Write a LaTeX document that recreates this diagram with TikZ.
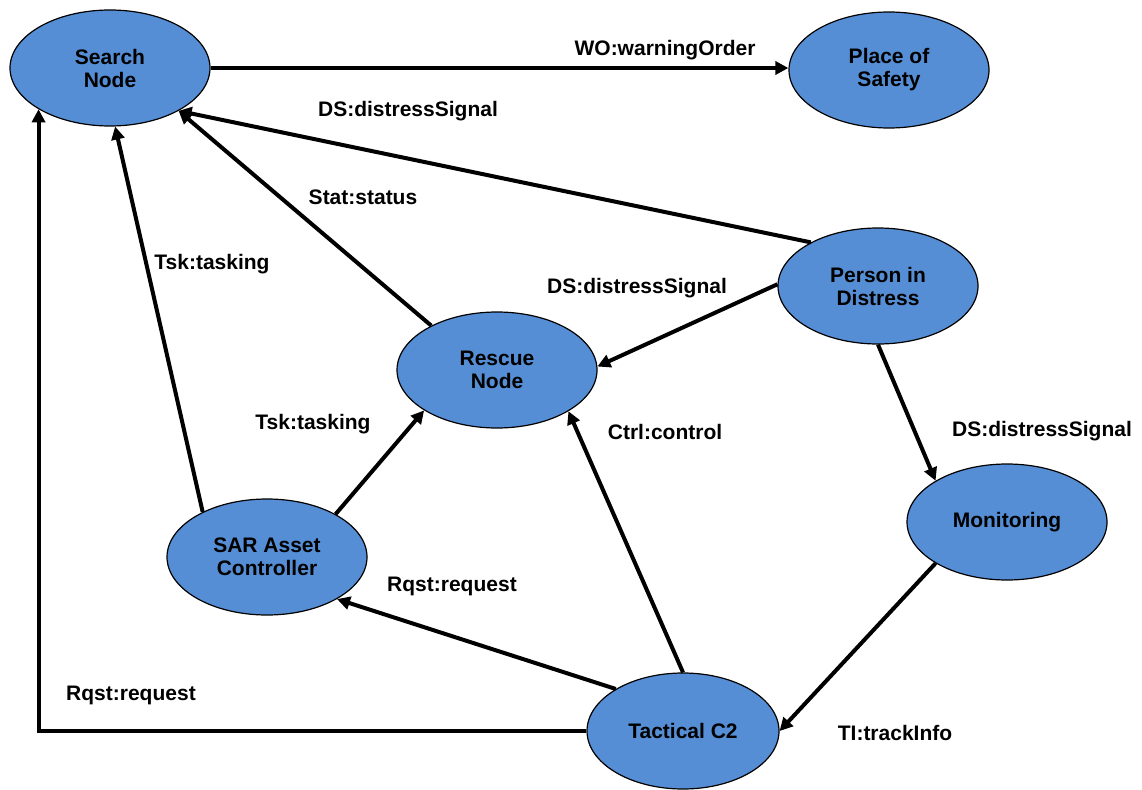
\documentclass[tikz,border=0pt]{standalone}
\usepackage{fontspec}
\setmainfont{Liberation Sans}
\usetikzlibrary{shapes.geometric,arrows.meta}
\definecolor{nodeblue}{RGB}{85,142,213}
\begin{document}
\begin{tikzpicture}[x=1pt,y=-1pt,
  every node/.style={font=\fontsize{21}{23}\selectfont\bfseries},
  actor/.style={ellipse,draw=black,line width=1.2pt,fill=nodeblue,
    minimum width=200pt,minimum height=116pt,inner sep=0pt,align=center},
  flow/.style={line width=4pt,-{Triangle[length=13pt,width=13pt]}},
  lbl/.style={inner sep=0pt}]
\useasboundingbox (0,0) rectangle (1142,789);

% actors
\node[actor] (search)  at (110,68)  {Search\\Node};
\node[actor] (safety)  at (889,70)  {Place of\\Safety};
\node[actor] (person)  at (878,286) {Person in\\Distress};
\node[actor] (rescue)  at (497,370) {Rescue\\Node};
\node[actor] (monitor) at (1007,522) {Monitoring};
\node[actor] (sar)     at (267,557) {SAR Asset\\Controller};
\node[actor,minimum width=192pt] (tac) at (683,731) {Tactical C2};

% message flows
\draw[flow] (search.east) -- (search.east -| safety.west);
\draw[flow] (person.147) -- (search.-32);
\draw[flow] (rescue.146) -- (search.-32);
\draw[flow] (sar.145) -- (search.-85);
\draw[flow] (tac.west) -| (search.-150);
\draw[flow] (person.179) -- (rescue.2);
\draw[flow] (sar.32) -- (rescue.-151);
\draw[flow] (tac.north) -- (rescue.-30);
\draw[flow] (tac.148) -- (sar.-31);
\draw[flow] (person.-90) -- (monitor.150);
\draw[flow] (monitor.-150) -- (tac.east);

% message labels
\node[lbl] (l1)  at (665,50)   {WO:warningOrder};
\node[lbl] (l2)  at (408,111)  {DS:distressSignal};
\node[lbl] (l3)  at (363,197)  {Stat:status};
\node[lbl] (l4)  at (212,264)  {Tsk:tasking};
\node[lbl] (l5)  at (637,288)  {DS:distressSignal};
\node[lbl] (l6)  at (313,424)  {Tsk:tasking};
\node[lbl] (l7)  at (665,432)  {Ctrl:control};
\node[lbl] (l8)  at (1042,431) {DS:distressSignal};
\node[lbl] (l9)  at (452,586)  {Rqst:request};
\node[lbl] (l10) at (131,695)  {Rqst:request};
\node[lbl] (l11) at (895,733)  {TI:trackInfo};
\end{tikzpicture}
\end{document}
